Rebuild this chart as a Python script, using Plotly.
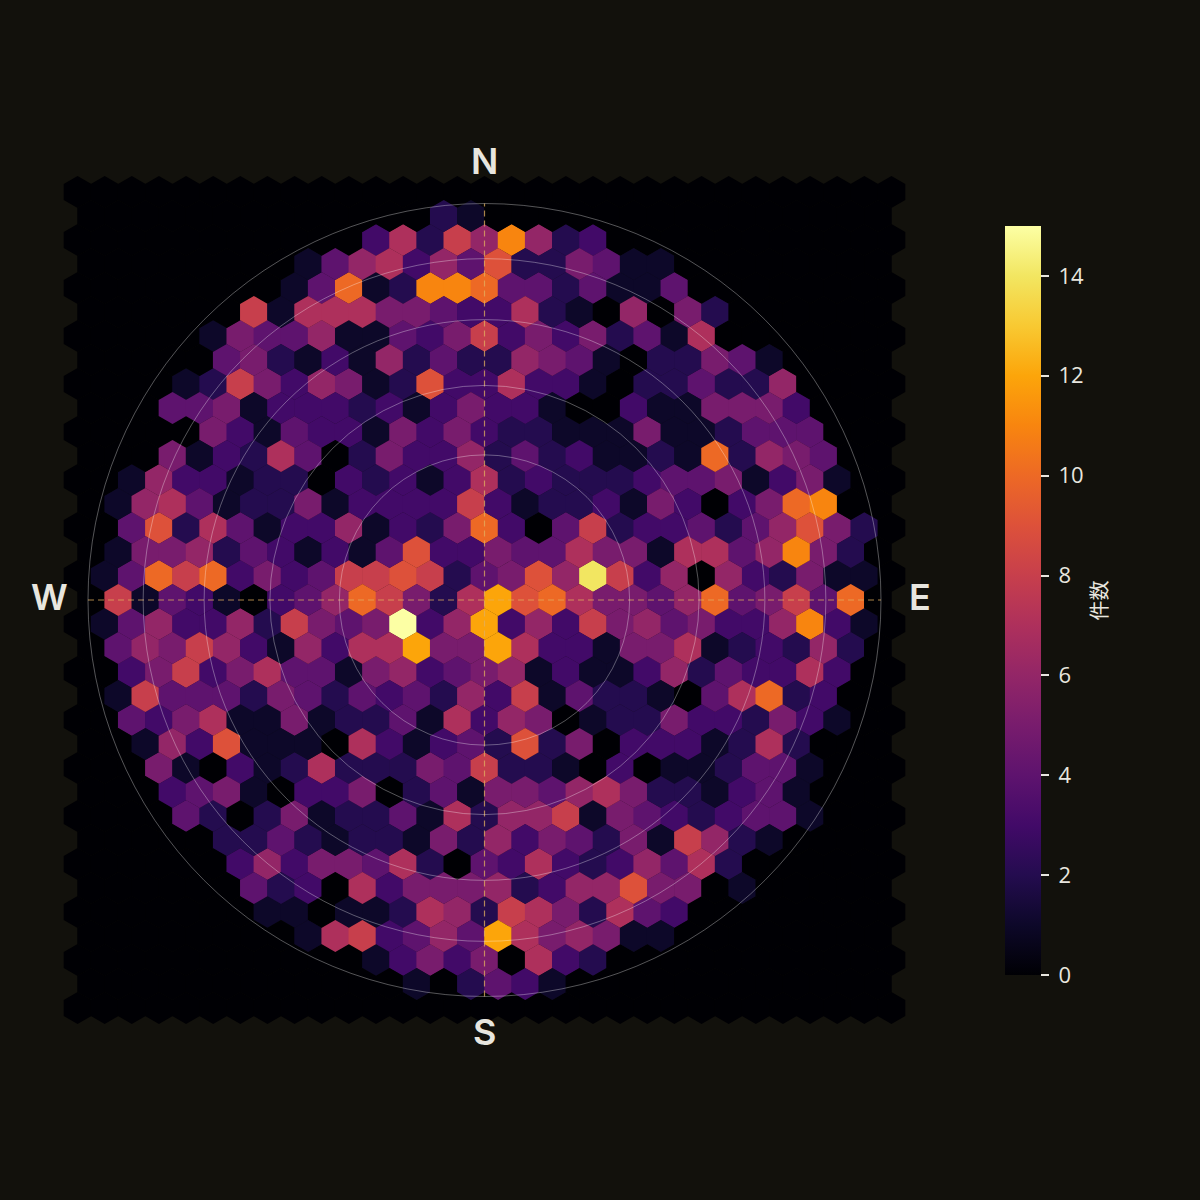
import numpy as np
import plotly.graph_objects as go

# Counts per hexagonal bin, one list per lattice row from north to south.
# Each row starts at the lattice column given in row_starts; the rest of the row is empty.
row_00 = []
row_01 = [2, 1]
row_02 = [3, 7, 2, 8, 6, 11, 6, 2, 3]
row_03 = [1, 4, 6, 7, 3, 6, 4, 9, 2, 2, 5, 4, 1, 1]
row_04 = [1, 4, 10, 1, 2, 11, 11, 10, 4, 4, 2, 4, 1, 1, 4]
row_05 = [8, 1, 7, 7, 7, 5, 5, 4, 3, 3, 7, 2, 1, 0, 6, 0, 5, 2]
row_06 = [1, 5, 4, 4, 6, 1, 1, 4, 3, 5, 8, 3, 5, 3, 5, 2, 4, 1, 7]
row_07 = [4, 5, 2, 1, 3, 1, 6, 2, 4, 2, 2, 6, 5, 4, 1, 0, 2, 2, 5, 4, 1]
row_08 = [1, 2, 8, 5, 3, 6, 5, 1, 2, 9, 3, 3, 7, 3, 3, 1, 0, 2, 2, 4, 2, 2, 6]
row_09 = [4, 4, 5, 1, 3, 3, 3, 2, 3, 1, 3, 5, 3, 3, 1, 0, 0, 3, 1, 1, 5, 5, 5, 3]
row_10 = [0, 0, 5, 3, 1, 4, 3, 3, 1, 5, 3, 5, 3, 2, 2, 1, 1, 1, 5, 1, 1, 2, 4, 4, 4]
row_11 = [5, 1, 3, 2, 7, 4, 0, 2, 5, 3, 3, 6, 2, 4, 2, 3, 1, 1, 2, 1, 10, 2, 6, 5, 4]
row_12 = [1, 6, 3, 3, 1, 2, 2, 0, 3, 2, 3, 1, 3, 7, 2, 3, 2, 2, 2, 3, 4, 4, 5, 1, 3, 5, 1]
row_13 = [1, 6, 7, 4, 1, 2, 2, 5, 1, 3, 3, 3, 3, 8, 3, 1, 2, 2, 3, 1, 5, 3, 0, 3, 5, 10, 11]
row_14 = [4, 9, 2, 7, 4, 1, 3, 3, 6, 1, 3, 2, 5, 10, 3, 0, 4, 8, 2, 3, 3, 4, 2, 4, 6, 9, 5, 2]
row_15 = [1, 5, 5, 6, 2, 4, 3, 1, 3, 1, 4, 9, 3, 3, 5, 4, 4, 7, 5, 5, 1, 7, 7, 4, 6, 11, 5, 2]
row_16 = [1, 4, 10, 8, 10, 3, 5, 3, 4, 8, 8, 9, 8, 2, 4, 5, 9, 6, 14, 8, 3, 6, 0, 6, 3, 2, 5, 1, 1]
row_17 = [8, 1, 4, 3, 1, 0, 3, 4, 6, 10, 8, 5, 2, 7, 12, 9, 10, 7, 5, 5, 4, 6, 10, 4, 5, 8, 4, 10]
row_18 = [1, 4, 6, 3, 3, 6, 2, 8, 5, 4, 5, 15, 3, 6, 12, 3, 6, 3, 8, 5, 6, 4, 5, 3, 3, 6, 11, 3, 1]
row_19 = [4, 6, 5, 8, 6, 3, 1, 6, 3, 7, 7, 12, 5, 5, 12, 7, 3, 3, 1, 5, 5, 7, 1, 2, 3, 2, 6, 2]
row_20 = [3, 5, 8, 3, 5, 7, 4, 4, 1, 5, 6, 3, 4, 5, 6, 1, 3, 1, 1, 3, 6, 2, 4, 3, 3, 7, 3]
row_21 = [1, 8, 4, 4, 4, 2, 5, 4, 2, 4, 3, 4, 2, 6, 3, 8, 1, 4, 2, 2, 1, 0, 4, 7, 10, 2, 3]
row_22 = [4, 3, 5, 7, 1, 1, 5, 1, 2, 2, 4, 1, 7, 3, 6, 5, 0, 1, 2, 2, 5, 3, 3, 2, 5, 3, 1]
row_23 = [1, 6, 3, 9, 1, 1, 1, 0, 7, 3, 1, 3, 4, 2, 9, 2, 5, 0, 3, 3, 3, 1, 2, 7, 2]
row_24 = [5, 1, 0, 3, 1, 2, 7, 2, 2, 2, 5, 4, 8, 2, 2, 1, 0, 3, 0, 1, 1, 2, 4, 4, 1]
row_25 = [3, 4, 5, 1, 0, 3, 3, 5, 0, 2, 4, 1, 5, 5, 4, 6, 7, 5, 2, 2, 1, 3, 4, 1]
row_26 = [4, 2, 0, 2, 5, 1, 2, 2, 4, 1, 7, 2, 6, 6, 8, 1, 5, 4, 3, 2, 3, 4, 4, 1]
row_27 = [2, 2, 4, 2, 1, 2, 2, 1, 5, 2, 6, 3, 5, 4, 2, 5, 1, 8, 6, 2, 1]
row_28 = [3, 6, 3, 5, 5, 4, 7, 2, 0, 4, 3, 7, 3, 2, 3, 6, 4, 7, 2]
row_29 = [4, 2, 3, 0, 7, 3, 5, 5, 5, 6, 2, 3, 6, 6, 9, 5, 5, 0, 1]
row_30 = [1, 1, 0, 1, 1, 2, 7, 6, 2, 8, 7, 5, 2, 7, 4, 3]
row_31 = [1, 7, 8, 3, 4, 6, 4, 12, 7, 5, 6, 5, 1, 1]
row_32 = [0, 1, 3, 5, 3, 5, 0, 7, 3, 2]
row_33 = [1, 0, 2, 4, 3, 1]
row_34 = []

rows = [
    row_00, row_01, row_02, row_03, row_04, row_05, row_06, row_07, row_08, row_09,
    row_10, row_11, row_12, row_13, row_14, row_15, row_16, row_17, row_18, row_19,
    row_20, row_21, row_22, row_23, row_24, row_25, row_26, row_27, row_28, row_29,
    row_30, row_31, row_32, row_33, row_34,
]
row_starts = [0, 13, 11, 8, 8, 6, 5, 5, 4, 3, 3, 3, 2, 1, 2, 1, 1, 1, 1, 1,
              2, 1, 2, 2, 3, 3, 4, 5, 6, 6, 7, 8, 10, 12, 0]

colorbar_ticks = [0, 2, 4, 6, 8, 10, 12, 14]
compass_labels = ["N", "E", "S", "W"]
ring_angles_deg = [30, 45, 60, 75, 90]

# Inferno sampled at each integer count from 0 to 15.
inferno_stops = ["#000004", "#0d0829", "#240c4f", "#420a68", "#5e136e", "#781c6d", "#932667", "#ae305c",
                 "#c73f4c", "#dd513a", "#ed6925", "#f8850f", "#fca50a", "#f8c932", "#f2e661", "#fcffa4"]
colorscale = [[i / 15, c] for i, c in enumerate(inferno_stops)]

# Page geometry, in pixels per unit of the equal-area disc.
PAGE = 1200
UNIT = 396.5
CX, CY = 484.5, 600.0
COL_STEP = 27.13 / UNIT
ROW_STEP = 24.0 / UNIT

BG = "#12110c"
TEXT = "#e8e6df"
FONT = "Inter, 'Noto Sans', sans-serif"
TICK_FONT = "'Open Sans', sans-serif"

# Build the full lattice: even rows have 31 columns, odd rows 30 and sit half a step across.
cells = []
for parity in (0, 1):
    for col in range(31 - parity):
        for r, (vals, start) in reversed(list(enumerate(zip(rows, row_starts)))):
            if r % 2 != parity:
                continue
            i = col - start
            count = vals[i] if 0 <= i < len(vals) else 0
            cells.append(((col - 15 + parity * 0.5) * COL_STEP, (17 - r) * ROW_STEP, count))
hex_x, hex_y, hex_c = map(list, zip(*cells))

# Tick labels are padded with spaces to hold them off the ticks and the colorbar title.
tick_labels = [f"\u2005{v}\u2002" for v in colorbar_ticks]

fig = go.Figure()
fig.add_trace(go.Scatter(
    x=hex_x, y=hex_y, mode="markers", hoverinfo="skip",
    marker=dict(
        symbol="hexagon", size=32, color=hex_c, cmin=0, cmax=15,
        colorscale=colorscale, line=dict(width=0),
        colorbar=dict(
            x=1005 / PAGE, xanchor="left", xpad=0,
            y=0.4996, yanchor="middle", ypad=0,
            thicknessmode="pixels", thickness=36,
            lenmode="pixels", len=749,
            outlinewidth=0, tickmode="array", tickvals=colorbar_ticks, ticktext=tick_labels,
            ticks="outside", ticklen=8, tickwidth=1.5, tickcolor=TEXT,
            tickfont=dict(family=TICK_FONT, size=22, color=TEXT),
            title=dict(text="件数", side="right",
                       font=dict(family="'Noto Sans CJK JP', sans-serif", size=20, color=TEXT)),
        ),
    ),
))

# Dashed north-south and east-west guides across the disc.
for gx, gy in (([-1, 1], [0, 0]), ([0, 0], [-1, 1])):
    fig.add_trace(go.Scatter(x=gx, y=gy, mode="lines", hoverinfo="skip",
                             line=dict(color="rgba(226,175,95,0.75)", width=1.2, dash="6px,4px")))

# Equal-area rings at fixed zenith angles.
shapes = []
for deg in ring_angles_deg:
    radius = np.sqrt(2) * np.sin(np.radians(deg) / 2)
    shapes.append(dict(type="circle", xref="x", yref="y", x0=-radius, x1=radius, y0=-radius, y1=radius,
                       line=dict(color="rgba(255,255,255,0.33)", width=1)))

# Compass letters sit just outside the hexagon field.
positions = {"N": (0, 1.107), "E": (1.098, 0.0075), "S": (0, -1.090), "W": (-1.098, 0.0075)}
annotations = [
    dict(x=positions[c][0], y=positions[c][1], text=c, showarrow=False, xref="x", yref="y",
         font=dict(family=FONT, size=36, color=TEXT, weight=600))
    for c in compass_labels
]

fig.update_layout(
    width=PAGE, height=PAGE, showlegend=False,
    margin=dict(l=0, r=0, t=0, b=0),
    paper_bgcolor=BG, plot_bgcolor=BG,
    shapes=shapes, annotations=annotations,
    xaxis=dict(range=[-CX / UNIT, (PAGE - CX) / UNIT], visible=False, fixedrange=True),
    yaxis=dict(range=[(CY - PAGE) / UNIT, CY / UNIT], visible=False, fixedrange=True),
)
fig.write_html("out.html", config={"displayModeBar": False})
